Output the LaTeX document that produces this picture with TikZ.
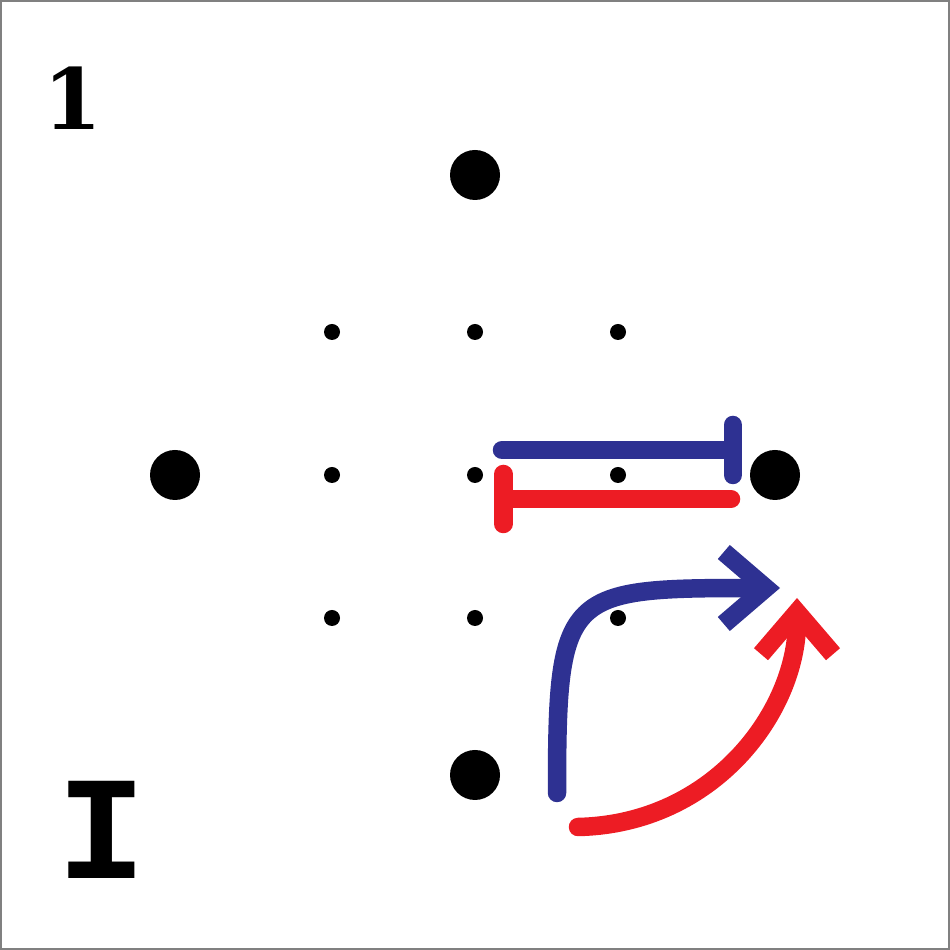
\documentclass[tikz,border=0pt]{standalone}
\usepackage{fontspec}
\setmonofont{Liberation Mono}
\newfontfamily\digitfont{DejaVu Serif}
\usetikzlibrary{positioning}
\usetikzlibrary{arrows.meta}
\definecolor{myblue}{HTML}{2E3192}
\definecolor{myred}{HTML}{ED1C24}

\begin{document}
\begin{tikzpicture}[node distance={14.3mm and 14.3mm}, on grid, big/.style = {circle, fill=black, inner sep=0pt, minimum size=0.5cm}, small/.style = {circle, fill=black, inner sep=0pt, minimum size=0.16cm}, lbl/.style = {inner sep=0pt}, thickline/.style = {line width=0.185cm, line cap=round}]
            \useasboundingbox (0,0) rectangle (9.5,9.5);
            \draw[gray, line width=0.02cm] (0.01,0.01) rectangle (9.49,9.49);
            % grid of small dots
            \node[small] (c) at (4.75,4.75) {};
            \node[small] (n) [above = of c] {};
            \node[small] (s) [below = of c] {};
            \node[small] (w) [left = of c] {};
            \node[small] (e) [right = of c] {};
            \node[small] (nw) [above left = of c] {};
            \node[small] (ne) [above right = of c] {};
            \node[small] (sw) [below left = of c] {};
            \node[small] (se) [below right = of c] {};
            % big dots
            \node[big] (N) [above = 30mm of c] {};
            \node[big] (S) [below = 30mm of c] {};
            \node[big] (W) [left = 30mm of c] {};
            \node[big] (E) [right = 30mm of c] {};
            % labels
            \node[lbl, font=\digitfont\bfseries\fontsize{24}{24}\selectfont] (one) at (0.725,8.52) {1};
            \node[lbl, font=\ttfamily\bfseries\fontsize{42}{42}\selectfont] (eye) at (1.015,1.20) {I};
            % end points
            \coordinate (b1) at (5.02,5.00);
            \coordinate (b2) at (7.42,5.00);
            \coordinate (r1) at (4.94,4.51);
            \coordinate (r2) at (7.31,4.51);
            \coordinate (b3) at (5.57,1.57);
            \coordinate (b4) at (7.80,3.62);
            \coordinate (r3) at (5.78,1.23);
            \coordinate (r4) at (7.97,3.52);
            \draw[thickline, myblue, -{Bar[width=0.5cm, round]}] (b1) -- (b2);
            \draw[thickline, myred, {Bar[width=0.5cm, round]}-] (r1) -- (r2);
            \draw[thickline, myblue, -{Straight Barb[length=0.42cm, width=0.72cm]}] (b3) .. controls (5.57,3.60) and (5.65,3.62) .. (b4);
            \draw[thickline, myred, -{Straight Barb[length=0.42cm, width=0.72cm]}] (r3) .. controls (7.15,1.26) and (7.97,2.40) .. (r4);
        \end{tikzpicture}
\end{document}
